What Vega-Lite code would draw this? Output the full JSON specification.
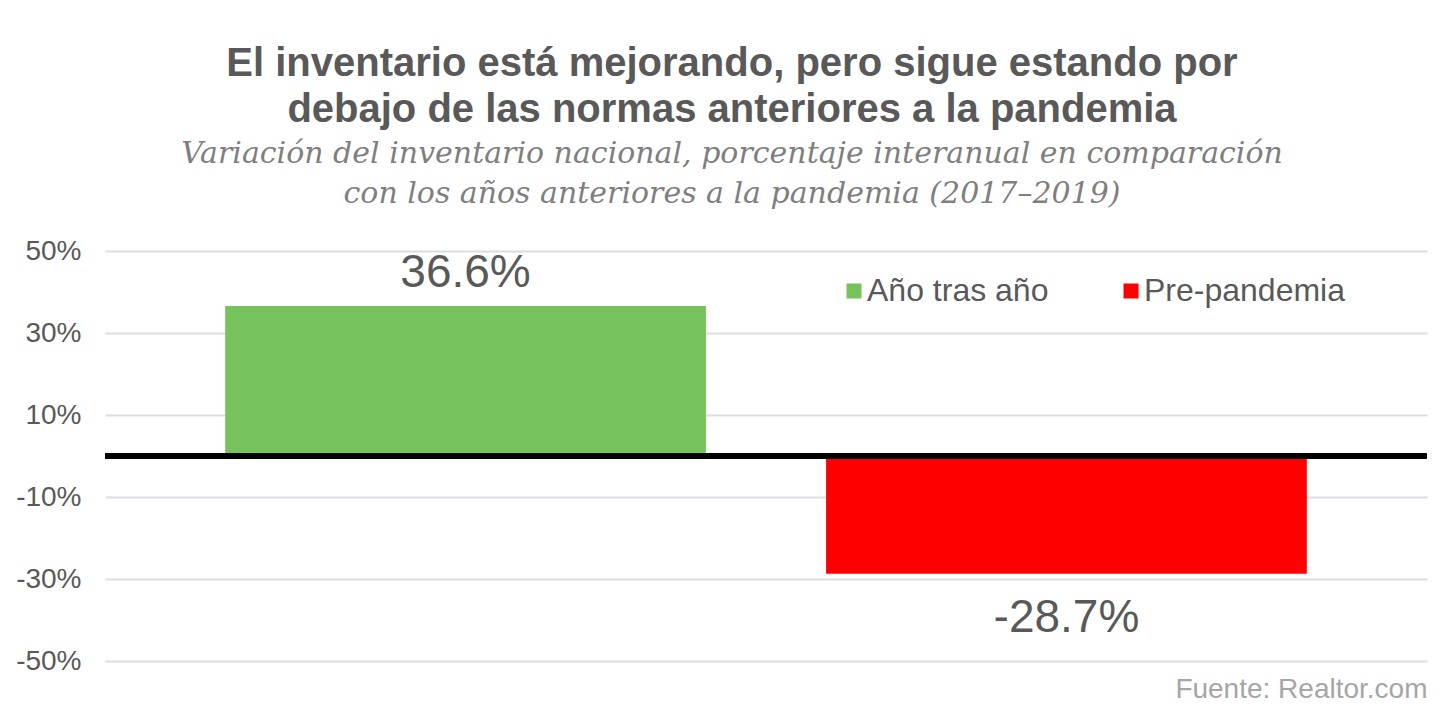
{
  "$schema": "https://vega.github.io/schema/vega-lite/v6.json",
  "width": 1322,
  "height": 410,
  "autosize": {"type": "none"},
  "padding": {"left": 105, "top": 251, "right": 16, "bottom": 48},
  "background": "white",
  "title": {
    "text": ["El inventario está mejorando, pero sigue estando por", "debajo de las normas anteriores a la pandemia"],
    "subtitle": ["Variación del inventario nacional, porcentaje interanual en comparación", "con los años anteriores a la pandemia (2017–2019)"],
    "fontSize": 40,
    "fontWeight": "bold",
    "color": "#595959",
    "lineHeight": 46,
    "subtitleFont": "DejaVu Serif",
    "subtitleFontStyle": "italic",
    "subtitleFontSize": 30,
    "subtitleColor": "#7f7f7f",
    "subtitleLineHeight": 40,
    "subtitlePadding": 9,
    "anchor": "middle",
    "frame": "group",
    "dx": -34,
    "offset": 28
  },
  "data": {
    "values": [
      {"category": "Año tras año", "value": 0.366},
      {"category": "Pre-pandemia", "value": -0.287}
    ]
  },
  "layer": [
    {
      "mark": {"type": "bar"},
      "encoding": {
        "x": {
          "field": "category",
          "type": "nominal",
          "sort": null,
          "scale": {"paddingInner": 0.2, "paddingOuter": 0.2},
          "axis": {
            "labels": false,
            "ticks": false,
            "domain": false,
            "title": "Fuente: Realtor.com",
            "titleAnchor": "end",
            "titleFontSize": 28,
            "titleFontWeight": "normal",
            "titleColor": "#a6a6a6",
            "titlePadding": 14
          }
        },
        "y": {
          "field": "value",
          "type": "quantitative",
          "scale": {"domain": [-0.5, 0.5], "nice": false},
          "axis": {
            "values": [-0.5, -0.3, -0.1, 0.1, 0.3, 0.5],
            "format": ".0%",
            "title": null,
            "ticks": false,
            "domain": false,
            "labelFontSize": 28,
            "labelColor": "#595959",
            "labelPadding": 24,
            "gridColor": "#dadee3",
            "gridWidth": 2
          }
        },
        "color": {
          "field": "category",
          "type": "nominal",
          "scale": {"domain": ["Año tras año", "Pre-pandemia"], "range": ["#75c35a", "#ff0000"]},
          "legend": {
            "title": null,
            "orient": "none",
            "legendX": 733,
            "legendY": 24,
            "direction": "horizontal",
            "symbolType": "square",
            "symbolSize": 225,
            "symbolStrokeWidth": 0,
            "labelFontSize": 32,
            "labelColor": "#595959",
            "labelLimit": 400,
            "labelOffset": -3,
            "columnPadding": 66
          }
        }
      }
    },
    {
      "mark": {"type": "rule", "color": "black", "strokeWidth": 6},
      "encoding": {"y": {"datum": 0}}
    },
    {
      "transform": [{"filter": "datum.value > 0"}],
      "mark": {"type": "text", "baseline": "alphabetic", "dy": -19, "fontSize": 46, "color": "#595959"},
      "encoding": {
        "x": {"field": "category", "type": "nominal", "sort": null},
        "y": {"field": "value", "type": "quantitative"},
        "text": {"field": "value", "type": "quantitative", "format": ".1%"}
      }
    },
    {
      "transform": [{"filter": "datum.value < 0"}],
      "mark": {"type": "text", "baseline": "alphabetic", "dy": 58, "fontSize": 46, "color": "#595959"},
      "encoding": {
        "x": {"field": "category", "type": "nominal", "sort": null},
        "y": {"field": "value", "type": "quantitative"},
        "text": {"field": "value", "type": "quantitative", "format": ".1%"}
      }
    }
  ],
  "config": {
    "font": "Liberation Sans",
    "view": {"stroke": null},
    "locale": {
      "number": {"decimal": ".", "thousands": ",", "grouping": [3], "currency": ["$", ""], "minus": "-"}
    }
  }
}
